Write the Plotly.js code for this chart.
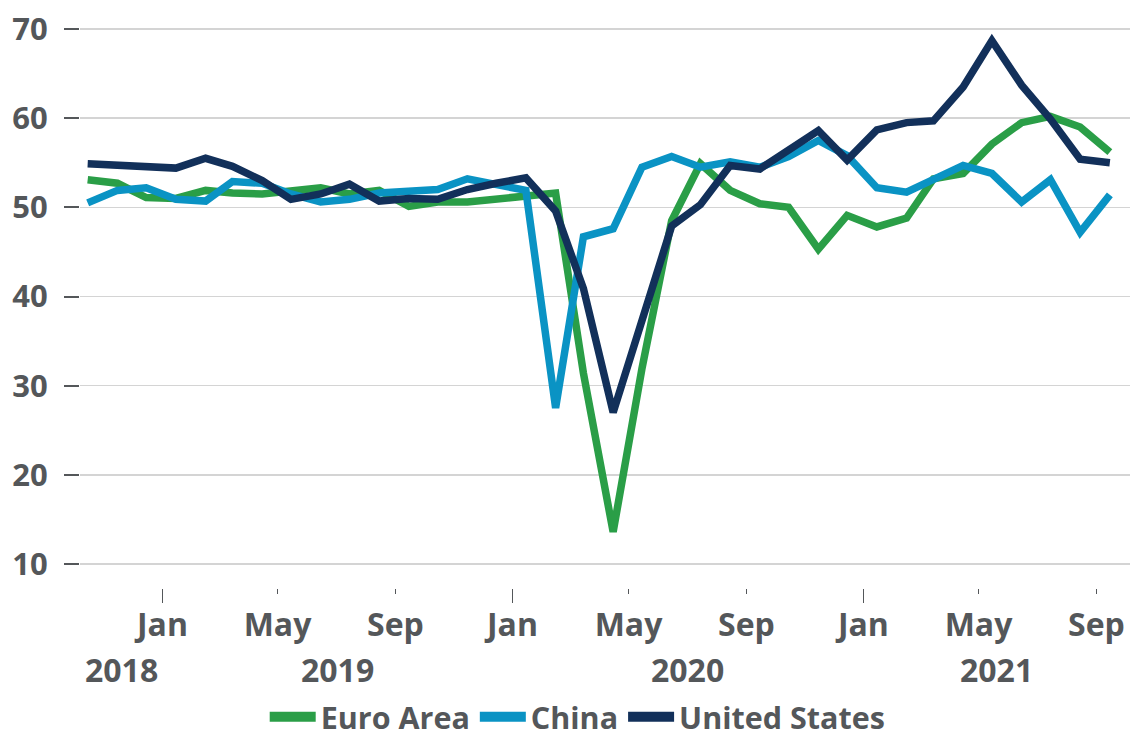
<!DOCTYPE html>
<html><head><meta charset="utf-8">
<script src="https://cdn.plot.ly/plotly-3.0.1.min.js"></script>
<style>html,body{margin:0;padding:0;background:#fff}#chart{width:1130px;height:737px}</style>
</head><body><div id="chart"></div>
<script>
const months = [
 '2018-10-15','2018-11-15','2018-12-15',
 '2019-01-15','2019-02-15','2019-03-15','2019-04-15','2019-05-15','2019-06-15',
 '2019-07-15','2019-08-15','2019-09-15','2019-10-15','2019-11-15','2019-12-15',
 '2020-01-15','2020-02-15','2020-03-15','2020-04-15','2020-05-15','2020-06-15',
 '2020-07-15','2020-08-15','2020-09-15','2020-10-15','2020-11-15','2020-12-15',
 '2021-01-15','2021-02-15','2021-03-15','2021-04-15','2021-05-15','2021-06-15',
 '2021-07-15','2021-08-15','2021-09-15'];
const euroArea = [53.1,52.7,51.1,
 51.0,51.9,51.6,51.5,51.8,52.2,51.5,51.9,50.1,50.6,50.6,50.9,
 51.3,51.6,31.4,13.6,31.9,48.5,54.9,51.9,50.4,50.0,45.3,49.1,
 47.8,48.8,53.2,53.8,57.1,59.5,60.2,59.0,56.2];
const china = [50.5,51.9,52.2,
 50.9,50.7,52.9,52.7,51.5,50.6,50.9,51.6,51.9,52.0,53.2,52.6,
 51.9,27.5,46.7,47.6,54.5,55.7,54.5,55.1,54.5,55.7,57.5,55.8,
 52.2,51.7,53.1,54.7,53.8,50.6,53.1,47.2,51.4];
const unitedStates = [54.9,54.7,54.4,
 54.4,55.5,54.6,53.0,50.9,51.5,52.6,50.7,51.0,50.9,52.0,52.7,
 53.3,49.6,40.9,27.0,37.0,47.9,50.3,54.7,54.3,56.3,58.6,55.3,
 58.7,59.5,59.7,63.5,68.7,63.7,59.9,55.4,55.0];
const seriesNames = ['Euro Area','China','United States'];
const seriesColors = ['#2a9e47','#0a93c4','#12305a'];
const tickDates = ['2019-01-01','2019-05-01','2019-09-01','2020-01-01','2020-05-01','2020-09-01','2021-01-01','2021-05-01','2021-09-01'];
const tickLabels = ['Jan','May','Sep','Jan','May','Sep','Jan','May','Sep'];
const yearStartTicks = ['2019-01-01','2020-01-01','2021-01-01'];
const yearLabels = ['2018','2019','2020','2021'];
const yTicks = [10,20,30,40,50,60,70];
const xRange = ['2018-10-07','2021-10-06'];
const yRange = [7.31, 71.01];

const textColor = '#54575a';
const fontFam = '"Open Sans", "DejaVu Sans", sans-serif';

const traces = [euroArea, china, unitedStates].map((vals, i) => ({
  type: 'scatter', mode: 'lines', x: months, y: vals, name: seriesNames[i],
  line: {color: seriesColors[i], width: 7.5}, hoverinfo: 'skip', showlegend: false
}));
// legend-only entries with thicker swatches
seriesNames.forEach((n, i) => traces.push({
  type: 'scatter', mode: 'lines', x: [months[0]], y: [null], name: n,
  line: {color: seriesColors[i], width: 12}, hoverinfo: 'skip', showlegend: true
}));
traces.push({type:'scatter', mode:'lines', x: months, y: months.map(() => null),
  xaxis: 'x2', yaxis: 'y', showlegend: false, hoverinfo: 'skip'});

// year labels centred on visible part of each year
const r0 = new Date(xRange[0]).getTime(), r1 = new Date(xRange[1]).getTime();
const annotations = yearLabels.map(y => {
  const s = Math.max(r0, new Date(y + '-01-01').getTime());
  const e = Math.min(r1, new Date((+y + 1) + '-01-01').getTime());
  return {text: y, x: (s + e) / 2, xref: 'x', y: -0.144, yref: 'paper',
    yanchor: 'middle', xanchor: 'center', showarrow: false,
    font: {family: fontFam, size: 32, color: textColor, weight: 'bold'}};
});

const layout = {
  width: 1130, height: 737,
  margin: {l: 80, r: 0, t: 20, b: 149, autoexpand: false},
  paper_bgcolor: '#fff', plot_bgcolor: '#fff',
  showlegend: true,
  legend: {orientation: 'h', x: 0.474, xanchor: 'center', y: -0.227, yanchor: 'middle',
    font: {family: fontFam, size: 30.5, color: textColor, weight: 'bold'},
    itemwidth: 46, tracegroupgap: 0},
  xaxis: {type: 'date', range: xRange, tickmode: 'array', tickvals: tickDates, ticktext: tickLabels,
    ticks: 'outside', ticklen: 5, tickwidth: 1.5, tickcolor: textColor,
    showgrid: false, zeroline: false, showline: false, ticklabelstandoff: 4, automargin: false,
    tickfont: {family: fontFam, size: 32, color: textColor, weight: 'bold'}},
  xaxis2: {type: 'date', range: xRange, overlaying: 'x', anchor: 'y', side: 'bottom',
    tickmode: 'array', tickvals: yearStartTicks, ticks: 'outside', ticklen: 14, tickwidth: 1.5,
    tickcolor: textColor, showticklabels: false, showgrid: false, zeroline: false, showline: false},
  yaxis: {range: yRange, tickmode: 'array', tickvals: yTicks, ticks: 'outside', ticklen: 15,
    tickwidth: 2, tickcolor: textColor, showgrid: true, gridcolor: '#d4d4d4', gridwidth: 1.5,
    zeroline: false, showline: false, ticklabelstandoff: 10, automargin: false,
    tickfont: {family: fontFam, size: 31, color: textColor, weight: 'bold'}},
  annotations: annotations
};
Plotly.newPlot('chart', traces, layout, {staticPlot: true, displayModeBar: false});
</script>
</body></html>
